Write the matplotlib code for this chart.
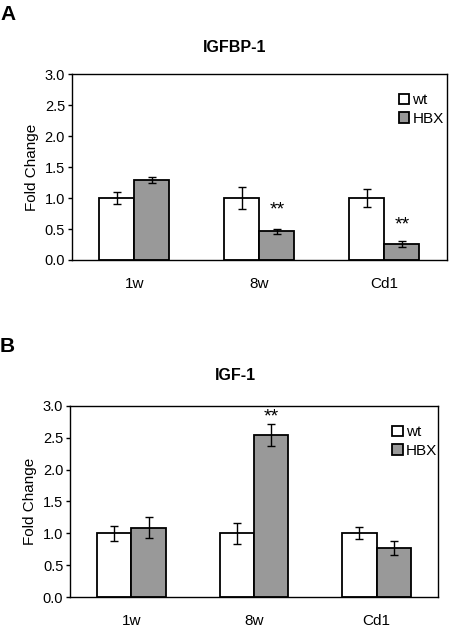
import numpy as np
import matplotlib
matplotlib.use("Agg")
import matplotlib.pyplot as plt

plt.rcParams['font.family'] = ['Liberation Sans', 'DejaVu Sans']

groups = ['1w', '8w', 'Cd1']

# panel A: IGFBP-1
a_wt = [1.0, 1.0, 1.0]
a_wt_err = [0.10, 0.18, 0.14]
a_hbx = [1.29, 0.46, 0.26]
a_hbx_err = [0.055, 0.045, 0.045]
a_stars = [None, 0.80, 0.56]

# panel B: IGF-1
b_wt = [1.0, 1.0, 1.0]
b_wt_err = [0.115, 0.16, 0.095]
b_hbx = [1.09, 2.54, 0.77]
b_hbx_err = [0.16, 0.175, 0.11]
b_stars = [None, 2.83, None]

yticks = [0.0, 0.5, 1.0, 1.5, 2.0, 2.5, 3.0]

fig = plt.figure(figsize=(4.5, 6.28), dpi=100)
axA = fig.add_axes([0.160, 0.586, 0.833, 0.296])
axB = fig.add_axes([0.156, 0.049, 0.817, 0.305])

w = 0.28
x = np.arange(len(groups))

def panel(ax, wt, wt_err, hbx, hbx_err, stars, leg_anchor):
    ax.bar(x - w/2, wt, w, color='white', edgecolor='black', linewidth=1.3,
           yerr=wt_err, capsize=3, error_kw=dict(elinewidth=1, capthick=1), label='wt')
    ax.bar(x + w/2, hbx, w, color='#999999', edgecolor='black', linewidth=1.3,
           yerr=hbx_err, capsize=3, error_kw=dict(elinewidth=1, capthick=1), label='HBX')
    for i, s in enumerate(stars):
        if s is not None:
            ax.text(x[i] + w/2, s, '**', ha='center', va='center', fontsize=14)
    ax.set_xlim(-0.5, 2.5)
    ax.set_ylim(0, 3.0)
    ax.set_yticks(yticks)
    ax.set_yticklabels(['%.1f' % t for t in yticks], fontsize=10.5)
    ax.set_xticks(x)
    ax.set_xticklabels(groups, fontsize=11)
    ax.tick_params(axis='x', length=0, pad=12)
    ax.tick_params(axis='y', length=3, width=1, pad=2)
    ax.set_ylabel('Fold Change', fontsize=11, labelpad=4)
    for sp in ax.spines.values():
        sp.set_linewidth(1)
    ax.legend(loc='upper left', bbox_to_anchor=leg_anchor, frameon=False,
              fontsize=11, handlelength=0.7, handleheight=0.7,
              handletextpad=0.2, labelspacing=0.3, borderaxespad=0)

panel(axA, a_wt, a_wt_err, a_hbx, a_hbx_err, a_stars, (0.855, 0.93))
panel(axB, b_wt, b_wt_err, b_hbx, b_hbx_err, b_stars, (0.86, 0.93))

fig.text(235/450, 1 - 47/628, 'IGFBP-1', ha='center', va='center', fontsize=11.5, fontweight='bold')
fig.text(235/450, 1 - 376/628, 'IGF-1', ha='center', va='center', fontsize=11.5, fontweight='bold')
fig.text(0.0, 1 - 15/628, 'A', ha='left', va='center', fontsize=15, fontweight='bold')
fig.text(0.0, 1 - 347/628, 'B', ha='left', va='center', fontsize=15, fontweight='bold')

fig.savefig('out.png', dpi=100)
